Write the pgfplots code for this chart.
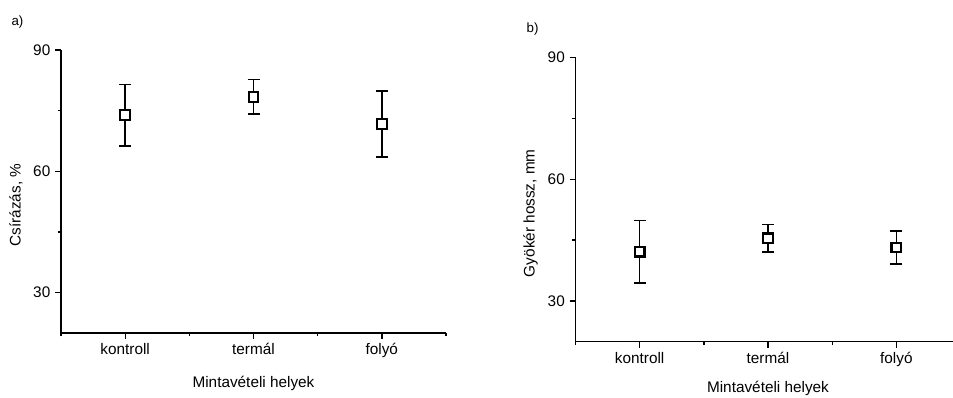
\documentclass[border=0pt]{standalone}
\usepackage{fontspec}
\setmainfont{Liberation Sans}
\usepackage{pgfplots}
\pgfplotsset{compat=1.18}
\pgfplotsset{
 panel/.style={
  scale only axis, width=288.75pt,
  axis lines=left, axis line style={-, line width=1.1pt, black},
  xmin=0.5, xmax=3.5, ymin=20, ymax=90,
  xtick={1,2,3}, xticklabels={kontroll,termál,folyó},
  minor xtick={0.5,1.5,2.5,3.5},
  ytick={30,60,90}, minor ytick={45,75},
  tick align=outside, major tick length=4.5pt, minor tick length=2.5pt,
  tick style={black, line width=1pt},
  tick label style={font=\fontsize{11.5}{13}\selectfont},
  /pgf/number format/assume math mode=true,
  xlabel={Mintavételi helyek},
  every axis x label/.style={at={(rel axis cs:0.5,-0.18)}, anchor=center, font=\fontsize{11.5}{13}\selectfont},
  every axis y label/.style={at={(rel axis cs:-0.117,0.452)}, rotate=90, anchor=center, font=\fontsize{11.5}{13}\selectfont},
  clip=false,
 },
 errpt/.style={only marks, black, mark=square*, mark size=3.6pt,
   mark options={fill=white, line width=1.6pt, draw=black},
   error bars/.cd, y dir=both, y explicit,
   error bar style={line width=1.2pt, black},
   error mark options={rotate=90, mark size=4.5pt, line width=1.2pt, black}},
}
\begin{document}
\begin{tikzpicture}
\path[use as bounding box] (0,0) rectangle (714.75pt,-298.5pt);
\node[font=\fontsize{10}{12}\selectfont] at (13.1pt,-16.5pt) {a)};
\node[font=\fontsize{10}{12}\selectfont] at (399.4pt,-21.75pt) {b)};
\begin{axis}[panel, at={(45.75pt,-249.75pt)}, anchor=south west, height=212.25pt,
  ylabel={Csírázás, \%}]
\addplot[errpt] coordinates {(1,73.9) +- (0,7.6) (2,78.4) +- (0,4.3) (3,71.75) +- (0,8.15)};
\end{axis}
\begin{axis}[panel, at={(431.625pt,-256.275pt)}, anchor=south west, height=213.3pt,
  ylabel={Gyökér hossz, mm},
  every axis x label/.style={at={(rel axis cs:0.5,-0.163)}, anchor=center, font=\fontsize{11.5}{13}\selectfont}]
\addplot[errpt] coordinates {(1,42.15) +- (0,7.65) (2,45.45) +- (0,3.35) (3,43.2) +- (0,4.1)};
\end{axis}
\end{tikzpicture}
\end{document}
